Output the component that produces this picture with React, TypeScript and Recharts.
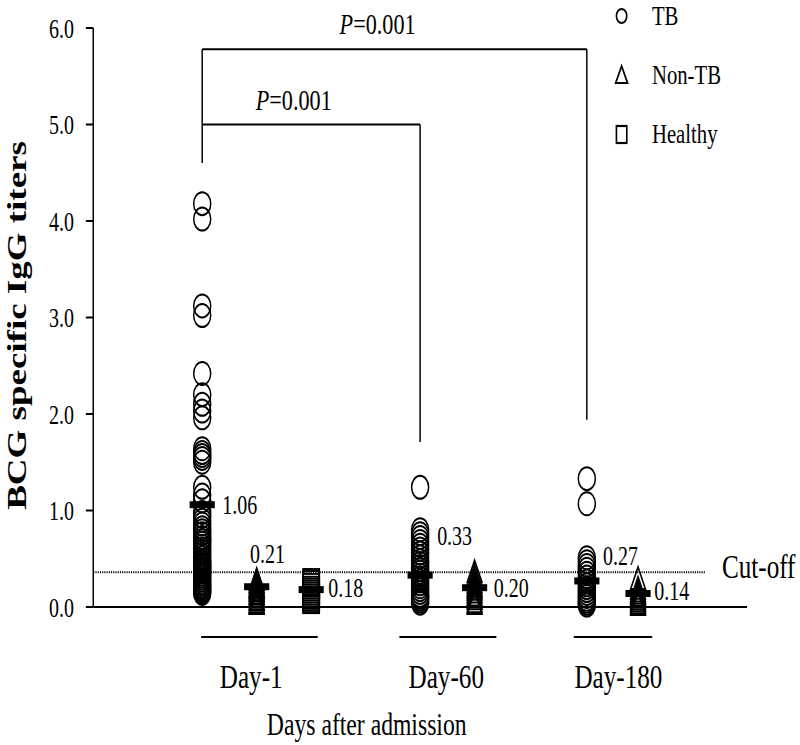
import { ScatterChart, Scatter, XAxis, YAxis, ReferenceLine, ReferenceDot, Legend } from 'recharts'

// the source figure is squeezed horizontally, so the chart is drawn wider and scaled back
const SCALE_X = 0.74
const HEIGHT = 745
const WIDTH = 800 / SCALE_X
const FONT = '"Liberation Serif", "Times New Roman", Times, serif'

// BCG specific IgG titers
const tbDay1 = [
  4.18, 4.02, 3.12, 3.02, 2.42, 2.2, 2.1, 2.03, 1.96, 1.64, 1.6, 1.57, 1.54, 1.5, 1.24, 1.16, 1.1,
  0.98, 0.94, 0.9, 0.86, 0.82, 0.79, 0.76, 0.72, 0.69, 0.66, 0.63, 0.6, 0.57, 0.54, 0.51, 0.48,
  0.46, 0.44, 0.42, 0.4, 0.38, 0.36, 0.34, 0.32, 0.3, 0.28, 0.26, 0.24, 0.22, 0.2, 0.18, 0.16, 0.14,
]
const nonTbDay1 = [0.28, 0.26, 0.24, 0.22, 0.21, 0.2, 0.19, 0.17, 0.16, 0.14, 0.13, 0.11, 0.1, 0.08, 0.07, 0.05, 0.04, 0.03]
const healthyDay1 = [0.3, 0.28, 0.25, 0.22, 0.2, 0.18, 0.16, 0.14, 0.12, 0.1, 0.08, 0.06, 0.04, 0.03]
const tbDay60 = [
  1.24, 0.8, 0.76, 0.72, 0.68, 0.64, 0.6, 0.56, 0.52, 0.48, 0.45, 0.42, 0.39, 0.36, 0.33, 0.3,
  0.27, 0.24, 0.21, 0.18, 0.15, 0.12, 0.1, 0.08, 0.06, 0.04,
]
const nonTbDay60 = [0.36, 0.32, 0.28, 0.25, 0.22, 0.2, 0.18, 0.15, 0.12, 0.1, 0.08, 0.05, 0.03]
const tbDay180 = [1.33, 1.07, 0.51, 0.47, 0.43, 0.39, 0.35, 0.31, 0.27, 0.23, 0.2, 0.17, 0.14, 0.11, 0.08, 0.06, 0.04, 0.02]
const nonTbDay180 = [0.29, 0.19, 0.16, 0.14, 0.12, 0.1, 0.08, 0.06, 0.04, 0.02]

// group means: TB D1, Non-TB D1, Healthy D1, TB D60, Non-TB D60, TB D180, Non-TB D180
const meanValues = [1.06, 0.21, 0.18, 0.33, 0.2, 0.27, 0.14]

const dayLabels = ['Day-1', 'Day-60', 'Day-180']
const legendItems = ['TB', 'Non-TB', 'Healthy']
const pValues = ['0.001', '0.001']
const cutOff = 0.36
const axisTicks = [0, 1, 2, 3, 4, 5, 6]

// layout on the 0..6 x axis
const colX = [1, 1.5, 2, 3, 3.5, 4.53, 5]
const dayCenterX = [1.45, 3.24, 4.82]
const dayLineX = [[0.99, 2.06], [2.81, 3.7], [4.41, 5.13]]
const meanLabelOffset = [
  { dx: 27, dy: 9 }, { dx: -9, dy: -24 }, { dx: 23, dy: 7 },
  { dx: 23, dy: -30 }, { dx: 26, dy: 9 },
  { dx: 22, dy: -16 }, { dx: 22, dy: 7 },
]

const pts = (x: number, ys: number[]) => ys.map((y) => ({ x, y }))
const meanData = meanValues.map((y, i) => ({ x: colX[i], y, i }))

const Ring = (p: any) => (
  <circle cx={p.cx} cy={p.cy} r={11.5} fill="none" stroke="#000" strokeWidth={2} />
)
const Tri = (p: any) => (
  <path d={`M${p.cx},${p.cy - 12}L${p.cx + 10},${p.cy + 10}L${p.cx - 10},${p.cy + 10}Z`} fill="none" stroke="#000" strokeWidth={2} />
)
const Sq = (p: any) => (
  <rect x={p.cx - 11} y={p.cy - 9} width={22} height={18} fill="none" stroke="#000" strokeWidth={2} />
)
const MeanMark = (p: any) => {
  const o = meanLabelOffset[p.payload.i]
  return (
    <g>
      <rect x={p.cx - 17} y={p.cy - 3.5} width={34} height={7} fill="#000" />
      <text x={p.cx + o.dx} y={p.cy + o.dy} fontSize={27} fontFamily={FONT} fill="#000">
        {p.payload.y.toFixed(2)}
      </text>
    </g>
  )
}

const textAt = (content: any, size: number, anchor = 'middle', dy = 0) => (props: any) => {
  const vb = props.viewBox || {}
  return (
    <text x={vb.x} y={vb.y + dy} textAnchor={anchor} fontSize={size} fontFamily={FONT} fill="#000">
      {content}
    </text>
  )
}

const pText = (v: string) => (
  <>
    <tspan fontStyle="italic">P</tspan>={v}
  </>
)

const LegendBox = () => (
  <svg width={250} height={150}>
    {legendItems.map((name, i) => {
      const cy = 16 + i * 59
      return (
        <g key={name}>
          {i === 0 && <circle cx={10} cy={cy} r={7} fill="none" stroke="#000" strokeWidth={2.2} />}
          {i === 1 && <path d={`M10,${cy - 9}L18,${cy + 8}L2,${cy + 8}Z`} fill="none" stroke="#000" strokeWidth={2.2} />}
          {i === 2 && <rect x={3} y={cy - 8} width={14} height={17} fill="none" stroke="#000" strokeWidth={2.2} />}
          <text x={51} y={cy + 9} fontSize={28} fontFamily={FONT} fill="#000">{name}</text>
        </g>
      )
    })}
  </svg>
)

const YTitle = (props: any) => {
  const vb = props.viewBox || {}
  const x = vb.x + 23
  const y = vb.y + vb.height / 2 + 8
  return (
    <text x={x} y={y} transform={`rotate(-90, ${x}, ${y})`} textAnchor="middle" dominantBaseline="central"
      fontSize={37} fontWeight="bold" fontFamily={FONT} fill="#000">
      BCG specific IgG titers
    </text>
  )
}

const line = { stroke: '#000', strokeWidth: 2 }

export default function App() {
  return (
    <div style={{ position: 'absolute', left: 0, top: 0, width: 800, height: HEIGHT, overflow: 'hidden', background: '#fff' }}>
      <div style={{ width: WIDTH, height: HEIGHT, transform: `scaleX(${SCALE_X})`, transformOrigin: '0 0' }}>
        <ScatterChart width={WIDTH} height={HEIGHT} margin={{ top: 28, right: WIDTH - 747 / SCALE_X, bottom: 100, left: 0 }}>
          <XAxis dataKey="x" type="number" domain={[0, 6]} ticks={axisTicks} tick={false} tickSize={10}
            height={38} axisLine={line} tickLine={line} />
          <YAxis dataKey="y" type="number" domain={[0, 6]} ticks={axisTicks} width={126} tickSize={10} tickMargin={16}
            tickFormatter={(v: number) => v.toFixed(1)} axisLine={line} tickLine={line}
            tick={{ fontSize: 27, fontFamily: FONT, fill: '#000' }} label={YTitle} />
          <Legend layout="vertical" align="center" verticalAlign="middle" content={LegendBox}
            wrapperStyle={{ left: 830, top: 0, width: 250, height: 150 }} />

          <ReferenceLine segment={[{ x: 0, y: cutOff }, { x: 5.62, y: cutOff }]} stroke="#000" strokeWidth={2}
            strokeDasharray="1.5 1.5" ifOverflow="visible" />
          <ReferenceDot x={5.77} y={cutOff} r={0} fill="none" stroke="none" ifOverflow="visible"
            label={textAt('Cut-off', 34, 'start', 6)} />

          {/* significance brackets */}
          <ReferenceLine segment={[{ x: colX[0], y: 5.78 }, { x: colX[5], y: 5.78 }]} {...line} ifOverflow="visible" />
          <ReferenceLine segment={[{ x: colX[0], y: 5.78 }, { x: colX[0], y: 4.6 }]} {...line} ifOverflow="visible" />
          <ReferenceLine segment={[{ x: colX[5], y: 5.78 }, { x: colX[5], y: 1.94 }]} {...line} ifOverflow="visible" />
          <ReferenceLine segment={[{ x: colX[0], y: 5.0 }, { x: colX[3], y: 5.0 }]} {...line} ifOverflow="visible" />
          <ReferenceLine segment={[{ x: colX[3], y: 5.0 }, { x: colX[3], y: 1.71 }]} {...line} ifOverflow="visible" />
          <ReferenceDot x={2.61} y={5.94} r={0} fill="none" stroke="none" ifOverflow="visible" label={textAt(pText(pValues[0]), 30)} />
          <ReferenceDot x={1.84} y={5.15} r={0} fill="none" stroke="none" ifOverflow="visible" label={textAt(pText(pValues[1]), 30)} />

          {/* day groups under the axis */}
          {dayLabels.map((d, i) => (
            <ReferenceLine key={'l' + d} segment={[{ x: dayLineX[i][0], y: -0.31 }, { x: dayLineX[i][1], y: -0.31 }]}
              {...line} ifOverflow="visible" />
          ))}
          {dayLabels.map((d, i) => (
            <ReferenceDot key={'t' + d} x={dayCenterX[i]} y={-0.84} r={0} fill="none" stroke="none" ifOverflow="visible"
              label={textAt(d, 34)} />
          ))}
          <ReferenceDot x={2.51} y={-1.33} r={0} fill="none" stroke="none" ifOverflow="visible"
            label={textAt('Days after admission', 32)} />

          <Scatter name="TB" data={pts(colX[0], tbDay1)} shape={Ring} legendType="none" isAnimationActive={false} />
          <Scatter name="TB" data={pts(colX[3], tbDay60)} shape={Ring} legendType="none" isAnimationActive={false} />
          <Scatter name="TB" data={pts(colX[5], tbDay180)} shape={Ring} legendType="none" isAnimationActive={false} />
          <Scatter name="Non-TB" data={pts(colX[1], nonTbDay1)} shape={Tri} legendType="none" isAnimationActive={false} />
          <Scatter name="Non-TB" data={pts(colX[4], nonTbDay60)} shape={Tri} legendType="none" isAnimationActive={false} />
          <Scatter name="Non-TB" data={pts(colX[6], nonTbDay180)} shape={Tri} legendType="none" isAnimationActive={false} />
          <Scatter name="Healthy" data={pts(colX[2], healthyDay1)} shape={Sq} legendType="none" isAnimationActive={false} />
          <Scatter name="Mean" data={meanData} shape={MeanMark} legendType="none" isAnimationActive={false} />
        </ScatterChart>
      </div>
    </div>
  )
}
